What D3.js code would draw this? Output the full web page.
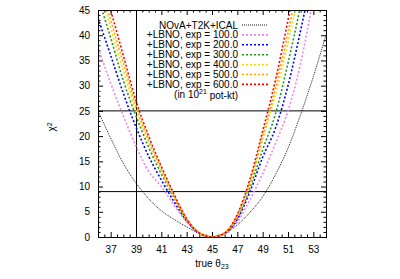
<!DOCTYPE html>
<html lang="en">
<head>
<meta charset="UTF-8">
<title>chi2 vs true theta23</title>
<script src="https://d3js.org/d3.v7.min.js"></script>
<style>
    body { margin: 0; background: #fff; }
    text { font-family: "Liberation Sans", Arial, sans-serif; font-size: 10px; fill: #000; }
</style>
</head>
<body>
<div id="chart"></div>
<script>
// true theta23 grid (degrees)
const theta = [36, 37, 38, 39, 40, 41, 42, 43, 44, 45, 46, 47, 48, 49, 50, 51, 52, 53, 54];

// chi^2 values
const chiNova   = [25, 19.6, 14.6, 10.7, 7.6, 5.2, 3.5, 2.0, 0.7, 0, 0.7, 2.4, 4.9, 8.0, 12.3, 17.6, 24.3, 31.8, 40];
const chiExp100 = [37.5, 30.5, 24, 18, 13, 10, 6.3, 3.0, 0.7, 0, 0.6, 3.0, 7.4, 12.6, 18.5, 25, 34.5, 47.5, 62];
const chiExp200 = [43.4, 36, 28.5, 21.8, 16, 11.3, 7.0, 3.2, 0.7, 0, 0.7, 3.5, 9.0, 15.8, 21.5, 30, 41, 53, 66];
const chiExp300 = [47.5, 39.5, 31, 24, 17.8, 12.5, 7.8, 3.4, 0.8, 0, 0.75, 3.8, 9.8, 17.3, 24.3, 34.5, 46, 59, 73];
const chiExp400 = [51, 41.5, 33, 25.2, 18.8, 13.2, 8.0, 3.5, 0.8, 0, 0.8, 4.1, 10.6, 19.3, 28.2, 38.5, 50, 63, 77];
const chiExp500 = [52, 43, 34.5, 26, 19.3, 13.5, 8.2, 3.6, 0.85, 0, 0.85, 4.3, 11, 20, 29.5, 40.5, 53, 67, 81];
const chiExp600 = [54, 45, 36, 27, 20, 14, 8.5, 3.6, 0.8, 0, 0.8, 4.5, 11.5, 21, 31, 43, 56, 70, 85];

const expLabels = ["100.0", "200.0", "300.0", "400.0", "500.0", "600.0"];
const expColors = ["#ee82ee", "#0000ff", "#1f9a1f", "#ffd700", "#ffa500", "#ff0000"];

const xTicks = [37, 39, 41, 43, 45, 47, 49, 51, 53];
const yTicks = [0, 5, 10, 15, 20, 25, 30, 35, 40, 45];
const hLines = [25, 9];
const vLines = [39];

const width = 400, height = 279;
const margin = { top: 10, right: 74, bottom: 42, left: 98 };
const innerWidth = width - margin.left - margin.right;
const innerHeight = height - margin.top - margin.bottom;

const svg = d3.select("#chart").append("svg")
    .attr("width", width)
    .attr("height", height);

const g = svg.append("g")
    .attr("transform", `translate(${margin.left},${margin.top})`);

const x = d3.scaleLinear().domain([36, 54]).range([0, innerWidth]);
const y = d3.scaleLinear().domain([0, 45]).range([innerHeight, 0]);

svg.append("defs").append("clipPath").attr("id", "plot-clip")
    .append("rect").attr("width", innerWidth).attr("height", innerHeight);

// ticks: major + minor on all four sides, pointing inward
const xMinor = d3.range(36, 54.01, 0.5).filter(v => !xTicks.includes(v));
const yMinor = d3.range(0, 45.01, 1).filter(v => !yTicks.includes(v));

function noLabels(a) {
    a.select(".domain").remove();
    a.selectAll(".tick text").remove();
}

g.append("g")
    .attr("transform", `translate(0,${innerHeight})`)
    .call(d3.axisBottom(x).tickValues(xTicks).tickSize(-5).tickPadding(9).tickFormat(d3.format("d")))
    .call(a => a.select(".domain").remove());
g.append("g")
    .attr("transform", `translate(0,${innerHeight})`)
    .call(d3.axisBottom(x).tickValues(xMinor).tickSize(-2.5))
    .call(noLabels);
g.append("g")
    .call(d3.axisTop(x).tickValues(xTicks).tickSize(-5))
    .call(noLabels);
g.append("g")
    .call(d3.axisTop(x).tickValues(xMinor).tickSize(-2.5))
    .call(noLabels);

g.append("g")
    .call(d3.axisLeft(y).tickValues(yTicks).tickSize(-5).tickPadding(8))
    .call(a => a.select(".domain").remove());
g.append("g")
    .call(d3.axisLeft(y).tickValues(yMinor).tickSize(-2.5))
    .call(noLabels);
g.append("g")
    .attr("transform", `translate(${innerWidth},0)`)
    .call(d3.axisRight(y).tickValues(yTicks).tickSize(-5))
    .call(noLabels);
g.append("g")
    .attr("transform", `translate(${innerWidth},0)`)
    .call(d3.axisRight(y).tickValues(yMinor).tickSize(-2.5))
    .call(noLabels);

g.selectAll(".tick text").style("font-size", "10px").style("font-family", "'Liberation Sans', Arial, sans-serif");

// reference lines
g.selectAll(".hline").data(hLines).enter().append("line")
    .attr("x1", 0).attr("x2", innerWidth)
    .attr("y1", d => y(d)).attr("y2", d => y(d))
    .attr("stroke", "#000").attr("stroke-width", 1);
g.selectAll(".vline").data(vLines).enter().append("line")
    .attr("x1", d => Math.round(x(d)) + 0.5).attr("x2", d => Math.round(x(d)) + 0.5)
    .attr("y1", 0).attr("y2", innerHeight)
    .attr("stroke", "#000").attr("stroke-width", 1);

// curves
const series = [
    { values: chiNova, color: "#000", dash: "1,1", w: 0.9 }
].concat([chiExp100, chiExp200, chiExp300, chiExp400, chiExp500, chiExp600].map((v, i) => ({
    values: v, color: expColors[i], dash: "2,2", w: 1.6
})));

const line = d3.line()
    .x(d => x(d[0]))
    .y(d => y(d[1]))
    .curve(d3.curveMonotoneX);

const plot = g.append("g").attr("clip-path", "url(#plot-clip)");
plot.selectAll(".curve").data(series).enter().append("path")
    .attr("class", "curve")
    .attr("fill", "none")
    .attr("stroke", d => d.color)
    .attr("stroke-width", d => d.w)
    .attr("stroke-dasharray", d => d.dash)
    .attr("d", d => line(theta.map((t, i) => [t, d.values[i]])));

// border
g.append("rect")
    .attr("x", 0.5).attr("y", 0.5)
    .attr("width", innerWidth).attr("height", innerHeight)
    .attr("fill", "none").attr("stroke", "#000").attr("stroke-width", 1);

// legend
const legendText = ["NOvA+T2K+ICAL"].concat(expLabels.map(e => `+LBNO, exp = ${e}`));
const legend = svg.append("g").attr("transform", "translate(238,25)");
const rowH = 9.9;
legend.selectAll(".ltext").data(legendText).enter().append("text")
    .attr("x", 0).attr("y", (d, i) => i * rowH).attr("dy", "0.35em")
    .attr("text-anchor", "end")
    .text(d => d);
legend.selectAll(".lline").data(series).enter().append("line")
    .attr("x1", 4).attr("x2", 30)
    .attr("y1", (d, i) => i * rowH).attr("y2", (d, i) => i * rowH)
    .attr("stroke", d => d.color)
    .attr("stroke-width", d => d.w)
    .attr("stroke-dasharray", d => d.dash);
const unit = legend.append("text")
    .attr("x", 0).attr("y", 7 * rowH).attr("dy", "0.35em")
    .attr("text-anchor", "end");
unit.append("tspan").text("(in 10");
unit.append("tspan").attr("dy", "-0.55em").style("font-size", "7px").text("21");
unit.append("tspan").attr("dy", "0.55em").text(" pot-kt)");

// axis titles
const xl = svg.append("text")
    .attr("x", margin.left + innerWidth / 2).attr("y", 267)
    .attr("text-anchor", "middle");
xl.append("tspan").text("true θ");
xl.append("tspan").attr("dy", "0.3em").style("font-size", "7px").text("23");

const yl = svg.append("text")
    .attr("transform", "translate(55,127) rotate(-90)")
    .attr("text-anchor", "middle");
yl.append("tspan").text("χ");
yl.append("tspan").attr("dy", "-0.5em").style("font-size", "7px").text("2");
</script>
</body>
</html>
